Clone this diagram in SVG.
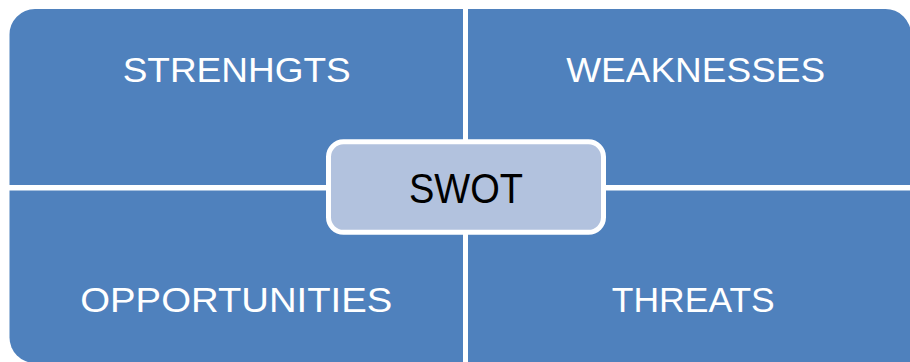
<svg xmlns="http://www.w3.org/2000/svg" width="910" height="362" viewBox="0 0 910 362">
  <style>
    .quad { fill: #4F81BD; }
    .qlabel { font-family: "Liberation Sans", Arial, sans-serif; font-size: 35px; fill: #FFFFFF; text-anchor: middle; }
    .center { fill: #B2C2DE; stroke: #FFFFFF; stroke-width: 5; }
    .clabel { font-family: "Liberation Sans", Arial, sans-serif; font-size: 42px; fill: #000000; text-anchor: middle; }
  </style>
  <rect width="910" height="362" fill="#FFFFFF"/>
  <g id="strengths">
    <path class="quad" d="M9.5,35 A25.5,25.5 0 0 1 35,9 L463,9 L463,185 L9.5,185 Z"/>
    <text class="qlabel" x="236.7" y="82.3" textLength="228" lengthAdjust="spacingAndGlyphs">STRENHGTS</text>
  </g>
  <g id="weaknesses">
    <path class="quad" d="M468,9 L885,9 A25.5,25.5 0 0 1 911,35 L911,185 L468,185 Z"/>
    <text class="qlabel" x="695.7" y="82.3" textLength="259" lengthAdjust="spacingAndGlyphs">WEAKNESSES</text>
  </g>
  <g id="opportunities">
    <path class="quad" d="M9.5,190.5 L463,190.5 L463,363 L35,363 A25.5,25.5 0 0 1 9.5,337.5 Z"/>
    <text class="qlabel" x="236.3" y="311.5" textLength="312" lengthAdjust="spacingAndGlyphs">OPPORTUNITIES</text>
  </g>
  <g id="threats">
    <path class="quad" d="M468,190.5 L911,190.5 L911,363 L468,363 Z"/>
    <text class="qlabel" x="693.3" y="311.5" textLength="163" lengthAdjust="spacingAndGlyphs">THREATS</text>
  </g>
  <g id="connectors"></g>
  <g id="swot">
    <rect class="center" x="328.5" y="141.8" width="275" height="90.5" rx="15" ry="15"/>
    <text class="clabel" x="466" y="202.5" textLength="114" lengthAdjust="spacingAndGlyphs">SWOT</text>
  </g>
</svg>
